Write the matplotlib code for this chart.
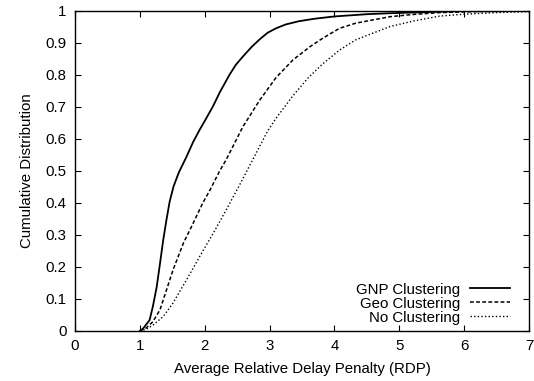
import matplotlib
matplotlib.use("Agg")
import matplotlib.pyplot as plt

# Data
gnp_x = [1.0, 1.05, 1.15, 1.20, 1.26, 1.31, 1.36, 1.41, 1.46, 1.52, 1.60, 1.72, 1.82, 1.92, 2.03, 2.13, 2.23, 2.38, 2.48, 2.59, 2.72, 2.85, 2.97, 3.10, 3.25, 3.45, 3.70, 4.0, 4.5, 4.85, 5.5, 6.0, 7.0]
gnp_y = [0.0, 0.008, 0.034, 0.076, 0.138, 0.21, 0.284, 0.347, 0.405, 0.452, 0.495, 0.545, 0.59, 0.628, 0.667, 0.703, 0.745, 0.80, 0.832, 0.858, 0.887, 0.912, 0.932, 0.946, 0.958, 0.968, 0.976, 0.983, 0.99, 0.993, 0.997, 1.0, 1.0]

geo_x = [1.0, 1.1, 1.20, 1.31, 1.41, 1.51, 1.67, 1.82, 1.97, 2.08, 2.23, 2.33, 2.59, 2.85, 3.10, 3.36, 3.62, 3.82, 4.08, 4.33, 4.85, 5.2, 5.62, 6.2, 7.0]
geo_y = [0.0, 0.01, 0.029, 0.066, 0.128, 0.19, 0.274, 0.336, 0.40, 0.44, 0.50, 0.535, 0.639, 0.722, 0.792, 0.847, 0.888, 0.915, 0.946, 0.962, 0.982, 0.989, 0.995, 0.998, 1.0]

no_x = [1.0, 1.1, 1.2, 1.36, 1.51, 1.72, 1.92, 2.13, 2.33, 2.56, 2.85, 2.97, 3.10, 3.23, 3.36, 3.59, 3.82, 4.08, 4.33, 4.85, 5.2, 5.62, 6.0, 6.49, 7.0]
no_y = [0.0, 0.006, 0.018, 0.045, 0.087, 0.16, 0.232, 0.305, 0.378, 0.465, 0.578, 0.625, 0.665, 0.70, 0.735, 0.79, 0.835, 0.878, 0.91, 0.951, 0.968, 0.984, 0.99, 0.995, 0.998]

series_labels = ["GNP Clustering", "Geo Clustering", "No Clustering"]
x_ticks = [0, 1, 2, 3, 4, 5, 6, 7]
y_ticks = [0, 0.1, 0.2, 0.3, 0.4, 0.5, 0.6, 0.7, 0.8, 0.9, 1]
y_tick_labels = ["0", "0.1", "0.2", "0.3", "0.4", "0.5", "0.6", "0.7", "0.8", "0.9", "1"]

plt.rcParams['font.family'] = ['Liberation Sans', 'DejaVu Sans']
FS = 10.8
plt.rcParams['font.size'] = FS

fig = plt.figure(figsize=(5.34, 3.81), dpi=100)
ax = fig.add_axes([75/534, 50/381, 454/534, 320/381])

ax.plot(gnp_x, gnp_y, color='black', lw=1.3, ls='-', label=series_labels[0])
ax.plot(geo_x, geo_y, color='black', lw=1.1, ls=(0, (2.5, 1.5)), label=series_labels[1])
ax.plot(no_x, no_y, color='black', lw=1.0, ls=(0, (1, 1.6)), label=series_labels[2])

ax.set_xlim(0, 7)
ax.set_ylim(0, 1)
ax.set_xticks(x_ticks)
ax.set_yticks(y_ticks)
ax.set_yticklabels(y_tick_labels)
ax.tick_params(direction='in', top=True, right=True, length=4, width=0.8, labelsize=FS)
ax.tick_params(axis='y', pad=6)
ax.tick_params(axis='x', pad=6)
for s in ax.spines.values():
    s.set_linewidth(1.0)

ax.set_xlabel("Average Relative Delay Penalty (RDP)", fontsize=FS, labelpad=6)
ax.set_ylabel("Cumulative Distribution", fontsize=FS, labelpad=8)

leg = ax.legend(loc='lower right', frameon=False, markerfirst=False, fontsize=FS,
                handlelength=2.7, handletextpad=0.65, labelspacing=0.0,
                borderaxespad=0.0, borderpad=0.0,
                bbox_to_anchor=((510 - 75) / 454, 0.02))
for t in leg.get_texts():
    t.set_ha('right')

fig.savefig("out.png", dpi=100)
